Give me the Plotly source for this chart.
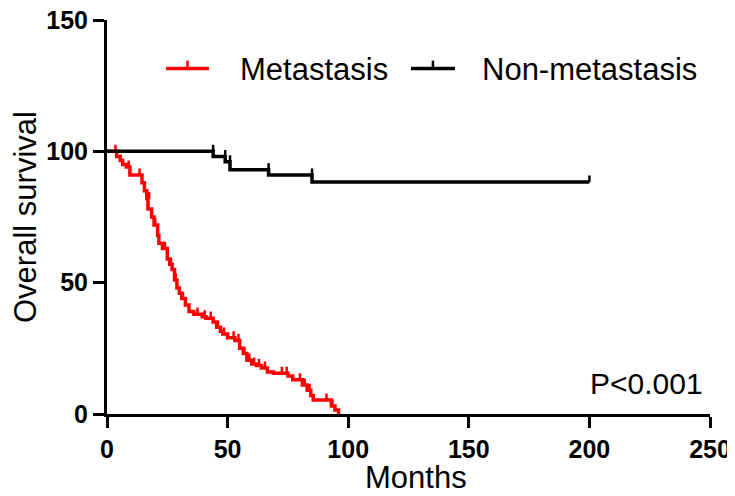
import plotly.graph_objects as go

# Metastasis group (Kaplan-Meier steps)
met_time = [0, 4, 5.5, 6.5, 8, 9.5, 14.5, 15.5, 16.5, 17, 18.5, 19.5, 21, 21.5, 23, 25, 26, 27, 28, 29, 30,
            31, 32.5, 34, 36, 39.5, 41, 44, 45.5, 47, 48, 50, 53, 55, 56.5, 58, 60, 62, 64, 66.5, 69,
            75, 77, 81, 83, 84.5, 85.5, 93, 94.5, 96]
met_surv = [100, 98, 96.5, 95, 94, 91, 88, 85, 82, 78, 75, 72, 68, 65, 63, 59, 57, 55, 51, 48, 46,
            44, 41.5, 39, 38, 37, 36.5, 35, 33, 31.5, 30.5, 29, 28, 25, 23, 20.5, 19, 18.5, 17.5, 16, 15.5,
            14.5, 13, 11, 9, 7, 5.3, 3, 1.5, 0]
met_cens_time = [3.5, 9, 13.5, 17.5, 20, 24, 26.5, 28.5, 31.5, 37.5, 40.5, 43, 46, 48.5, 52.5, 54.5, 57,
                 59, 61, 63, 65.5, 72.5, 74.5, 80, 82, 84, 91, 93.5]
met_cens_surv = [100, 94, 91, 82, 72, 63, 57, 51, 44, 38, 37, 36.5, 33, 30.5, 29, 28, 23, 20.5, 19,
                 18.5, 17.5, 15.5, 15.5, 13, 11, 9, 5.3, 3]

# Non-metastasis group
non_time = [0, 44, 49, 51, 67, 85, 200]
non_surv = [100, 98, 96, 93, 91, 88.3, 88.3]
non_cens_time = [44, 49, 51, 67, 85, 200]
non_cens_surv = [100, 98, 96, 93, 91, 88.3]

x_ticks = [0, 50, 100, 150, 200, 250]
y_ticks = [0, 50, 100, 150]

series_names = ["Metastasis", "Non-metastasis"]
series_colors = ["#ff0000", "#000000"]
x_title = "Months"
y_title = "Overall survival"
p_text = "P<0.001"

fig = go.Figure()

def add_group(t, s, ct, cs, color, name):
    fig.add_trace(go.Scatter(x=t, y=s, mode="lines", line=dict(color=color, width=3.5, shape="hv"),
                             name=name, showlegend=False, cliponaxis=False, hoverinfo="skip"))
    fig.add_trace(go.Scatter(x=ct, y=cs, mode="markers", marker=dict(size=1, color=color, opacity=0),
                             error_y=dict(type="constant", symmetric=False, value=2.5, valueminus=0,
                                          width=0, thickness=2.5, color=color),
                             showlegend=False, hoverinfo="skip", cliponaxis=False))

add_group(met_time, met_surv, met_cens_time, met_cens_surv, series_colors[0], series_names[0])
add_group(non_time, non_surv, non_cens_time, non_cens_surv, series_colors[1], series_names[1])

# custom legend (line sample with censor tick + label), in paper coordinates
leg_line_x = [(0.098, 0.169), (0.504, 0.577)]
leg_text_x = [0.217, 0.619]
leg_y = 0.877
for (x0, x1), tx, name, color in zip(leg_line_x, leg_text_x, series_names, series_colors):
    fig.add_shape(type="line", xref="paper", yref="paper", x0=x0, x1=x1, y0=leg_y, y1=leg_y,
                  line=dict(color=color, width=3.5))
    xm = (x0 + x1) / 2
    fig.add_shape(type="line", xref="paper", yref="paper", x0=xm, x1=xm, y0=leg_y, y1=leg_y + 0.02,
                  line=dict(color=color, width=2.5))
    fig.add_annotation(x=tx, y=leg_y - 0.003, xref="paper", yref="paper", text=name, showarrow=False,
                       xanchor="left", yanchor="middle", font=dict(size=31, color="black"))

fig.add_annotation(x=0.992, y=0.078, xref="paper", yref="paper", text=p_text, showarrow=False,
                   xanchor="right", yanchor="middle", font=dict(size=30, color="black"))

# axis titles
fig.add_annotation(x=0.512, y=-0.16, xref="paper", yref="paper", text=x_title, showarrow=False,
                   xanchor="center", yanchor="middle", font=dict(size=31, color="black"))
fig.add_annotation(x=-0.136, y=0.5, xref="paper", yref="paper", text=y_title, showarrow=False,
                   textangle=-90, xanchor="center", yanchor="middle", font=dict(size=31, color="black"))

tickfont = dict(size=25, color="black", family="Liberation Sans, Arial", weight="bold")
axis_common = dict(showline=True, linecolor="black", linewidth=3, ticks="outside", ticklen=11,
                   tickwidth=3, tickcolor="black", showgrid=False, zeroline=False,
                   automargin=False, tickfont=tickfont, ticklabeloverflow="allow")

fig.update_layout(
    width=735, height=488,
    margin=dict(l=99, r=33, t=12, b=82),
    plot_bgcolor="white", paper_bgcolor="white",
    showlegend=False,
    font=dict(family="Liberation Sans, Arial", color="black"),
    xaxis=dict(range=[0, 250], tickvals=x_ticks, **axis_common),
    yaxis=dict(range=[0, 150], tickvals=y_ticks, **axis_common),
)

fig.write_html("out.html")
